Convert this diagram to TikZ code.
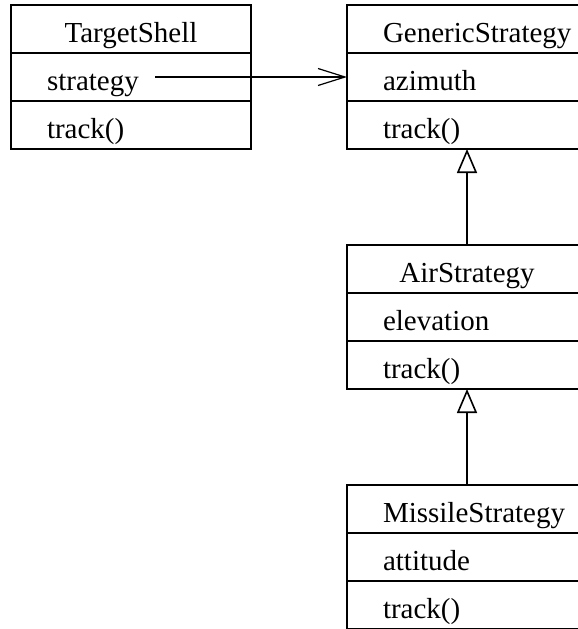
\documentclass[tikz,border=0pt]{standalone}
\usepackage{fontspec}
\setmainfont{Liberation Serif}
\usetikzlibrary{arrows.meta}
\begin{document}
\begin{tikzpicture}[x=1pt,y=1pt,
  cell/.style={draw, line width=1.2pt, anchor=north west, outer sep=0pt,
    inner xsep=36pt, inner ysep=0pt, text width=168pt,
    text height=37pt, text depth=11pt,
    font=\fontsize{29}{34}\selectfont},
  classname/.style={cell, align=center},
  member/.style={cell, align=left},
  assoc/.style={line width=1.2pt, -{Straight Barb[length=27pt, width=17pt, line width=1.2pt]}},
  inherit/.style={line width=1.2pt, -{Triangle[open, length=24pt, width=20pt, line width=1.6pt]}}]
\clip (0,0) rectangle (578,-629);
\useasboundingbox (0,0) rectangle (578,-629);

% TargetShell
\node[classname] (ts-name) at (11,-5) {TargetShell\hspace*{8pt}};
\node[member] (ts-attr) at (ts-name.south west) {strategy};
\node[member] (ts-meth) at (ts-attr.south west) {track()};

% GenericStrategy
\node[classname] (gs-name) at (347,-5) {GenericStrategy\hspace*{8pt}};
\node[member] (gs-attr) at (gs-name.south west) {azimuth};
\node[member] (gs-meth) at (gs-attr.south west) {track()};

% AirStrategy
\node[classname] (as-name) at (347,-245) {AirStrategy\hspace*{8pt}};
\node[member] (as-attr) at (as-name.south west) {elevation};
\node[member] (as-meth) at (as-attr.south west) {track()};

% MissileStrategy
\node[classname] (ms-name) at (347,-485) {MissileStrategy\hspace*{8pt}};
\node[member] (ms-attr) at (ms-name.south west) {attitude};
\node[member] (ms-meth) at (ms-attr.south west) {track()};

% association and generalizations
\draw[assoc] ([xshift=144pt]ts-attr.west) -- (gs-attr.west);
\draw[inherit] (as-name.north) -- (gs-meth.south);
\draw[inherit] (ms-name.north) -- (as-meth.south);
\end{tikzpicture}
\end{document}
